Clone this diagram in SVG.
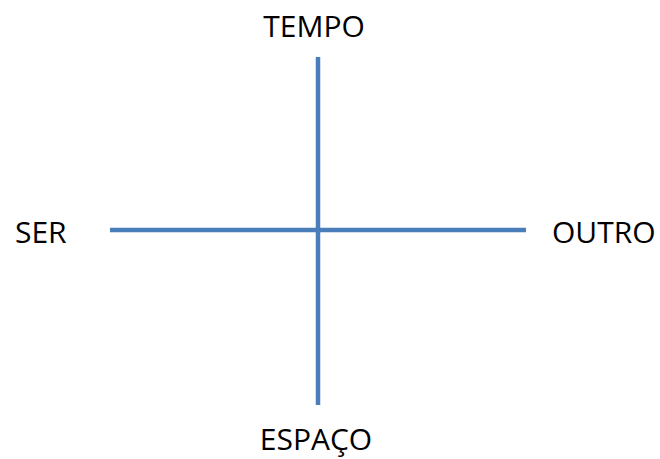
<svg xmlns="http://www.w3.org/2000/svg" width="660" height="459" viewBox="0 0 660 459">
<style>
text{font-family:"Open Sans","Liberation Sans",sans-serif;font-size:30px;fill:#000}
.ax{stroke:#4A7EBB;stroke-width:4.5;fill:none}
</style>
<rect width="660" height="459" fill="#fff"/>
<g id="connectors">
<line class="ax" x1="318" y1="57" x2="318" y2="405"/>
<line class="ax" x1="110" y1="230" x2="526" y2="230"/>
</g>
<g id="tempo"><text x="314" y="37" text-anchor="middle">TEMPO</text></g>
<g id="ser"><text x="15" y="243">SER</text></g>
<g id="outro"><text x="552" y="243">OUTRO</text></g>
<g id="espaco"><text x="316" y="450" text-anchor="middle">ESPAÇO</text></g>
</svg>
